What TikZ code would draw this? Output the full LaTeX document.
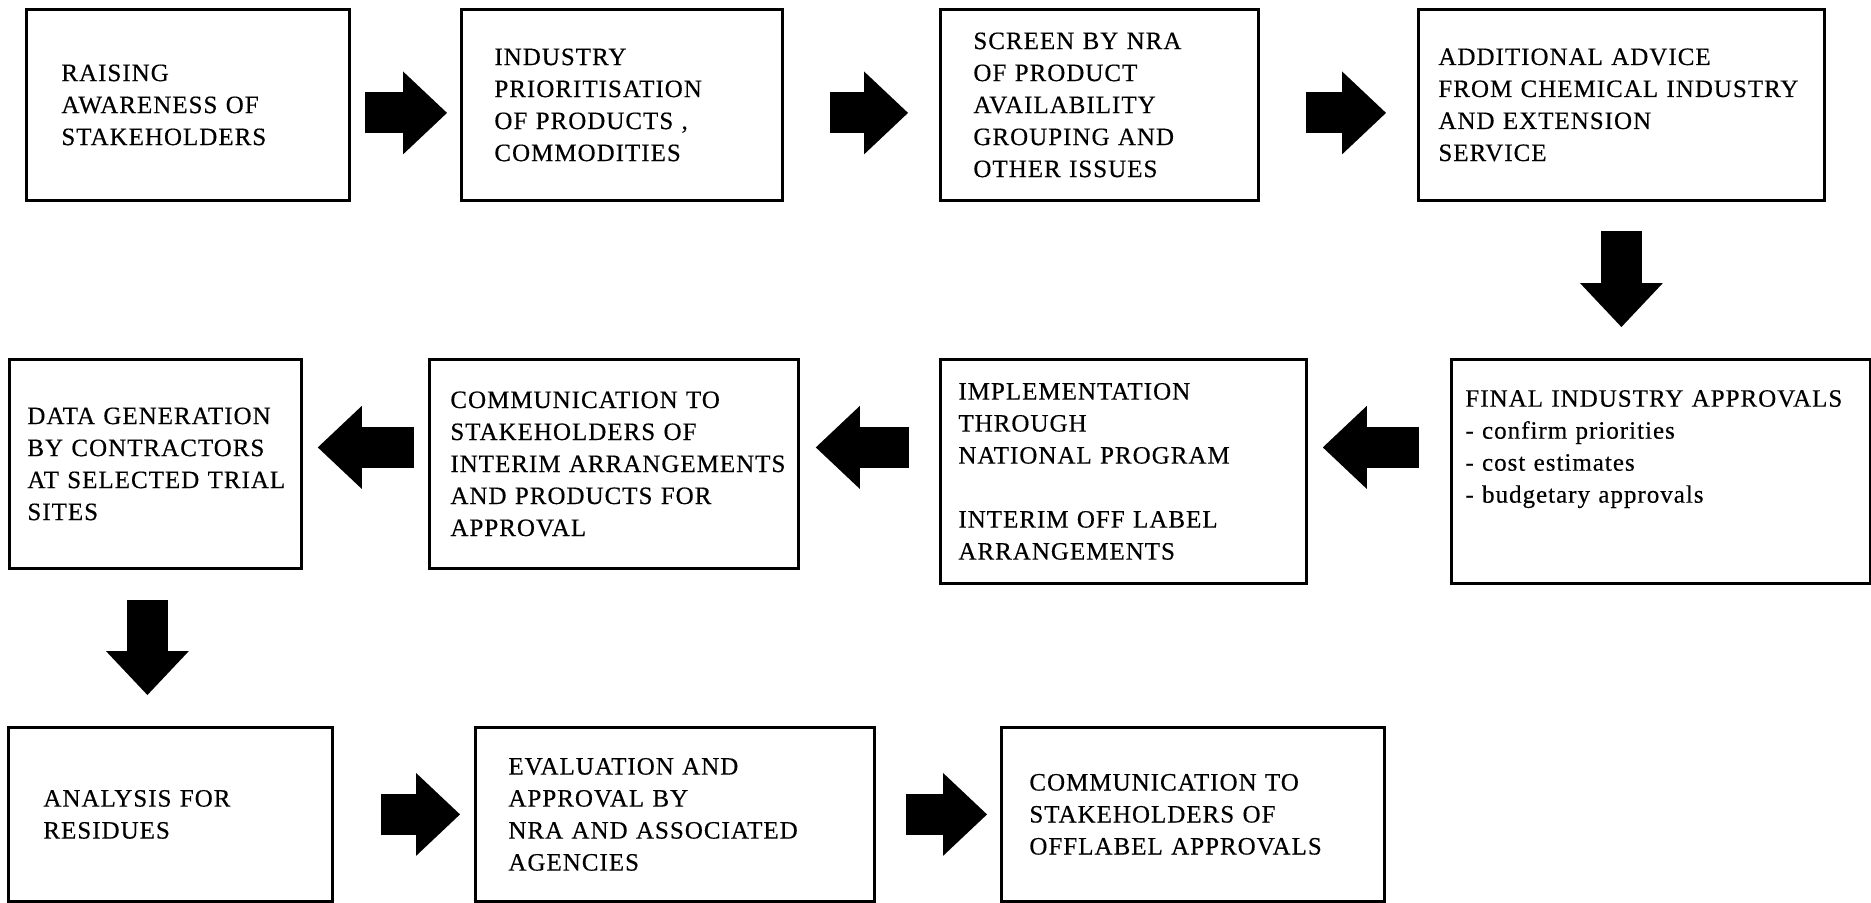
\documentclass[tikz,border=0pt]{standalone}
\usepackage{fontspec}
\setmainfont{Liberation Serif}[LetterSpace=4,FakeBold=0.4]
\usetikzlibrary{arrows.meta,calc}
\hyphenpenalty=10000

\begin{document}
\begin{tikzpicture}[x=0.5pt,y=0.5pt]
\tikzstyle{stage}=[draw=black, line width=1.4pt, anchor=north west, align=left, inner ysep=0pt, font=\fontsize{12.5pt}{16pt}\selectfont]
\tikzstyle{fat}=[line width=20.5pt, -{Triangle[width=41.5pt,length=22pt,line width=0pt]}]
\useasboundingbox (0,0) rectangle (1871,-902);
% row 1
\node[stage, text width=126.5pt, inner xsep=17.5pt, minimum height=95.5pt] (b1) at (25,-8) {RAISING\\AWARENESS OF\\STAKEHOLDERS};
\node[stage, text width=127.5pt, inner xsep=16.5pt, minimum height=95.5pt] (b2) at (460,-8) {INDUSTRY\\PRIORITISATION\\OF PRODUCTS ,\\COMMODITIES};
\node[stage, text width=126pt, inner xsep=16.5pt, minimum height=95.5pt] (b3) at (939,-8) {SCREEN BY NRA\\OF PRODUCT\\AVAILABILITY\\GROUPING AND\\OTHER ISSUES};
\node[stage, text width=183pt, inner xsep=10pt, minimum height=95.5pt] (b4) at (1417,-8) {ADDITIONAL ADVICE\\\mbox{FROM CHEMICAL INDUSTRY}\\AND EXTENSION\\SERVICE};
% row 2
\node[stage, text width=195.5pt, inner xsep=7pt, minimum height=112pt] (b5) at (1450,-358) {\mbox{FINAL INDUSTRY APPROVALS}\\- confirm priorities\\- cost estimates\\- budgetary approvals\\[9pt]\mbox{}};
\node[stage, text width=165pt, inner xsep=9pt, minimum height=112pt] (b6) at (939,-358) {IMPLEMENTATION\\THROUGH\\NATIONAL PROGRAM\\[16pt]INTERIM OFF LABEL\\ARRANGEMENTS};
\node[stage, text width=163.5pt, inner xsep=10.5pt, minimum height=104.5pt] (b8) at (428,-358) {COMMUNICATION TO\\STAKEHOLDERS OF\\\mbox{INTERIM ARRANGEMENTS}\\AND PRODUCTS FOR\\APPROVAL};
\node[stage, text width=128pt, inner xsep=9pt, minimum height=104.5pt] (b7) at (8,-358) {DATA GENERATION\\BY CONTRACTORS\\\mbox{AT SELECTED TRIAL}\\SITES};
% row 3
\node[stage, text width=127pt, inner xsep=17.5pt, minimum height=87pt] (b9) at (7,-726) {ANALYSIS FOR\\RESIDUES};
\node[stage, text width=166.5pt, inner xsep=16.5pt, minimum height=87pt] (b10) at (474,-726) {EVALUATION AND\\APPROVAL BY\\\mbox{NRA AND ASSOCIATED}\\AGENCIES};
\node[stage, text width=163.5pt, inner xsep=14pt, minimum height=87pt] (b11) at (1000,-726) {COMMUNICATION TO\\STAKEHOLDERS OF\\OFFLABEL APPROVALS};
% arrows
\draw[fat, shorten <=7pt, shorten >=6.5pt] ($(b1.east)+(0,-8)$) -- ($(b2.west)+(0,-8)$);
\draw[fat, shorten <=23pt, shorten >=15.5pt] ($(b2.east)+(0,-8)$) -- ($(b3.west)+(0,-8)$);
\draw[fat, shorten <=23pt, shorten >=15.5pt] ($(b3.east)+(0,-8)$) -- ($(b4.west)+(0,-8)$);
\draw[fat, shorten <=14.5pt, shorten >=15.5pt] (b4.south) -- (b4.south |- b5.north);
\draw[fat, shorten <=15.5pt, shorten >=7.5pt] ($(b5.west)+(0,24)$) -- ($(b6.east)+(0,24)$);
\draw[fat, shorten <=15pt, shorten >=8pt] ($(b6.west)+(0,24)$) coordinate (l2) -- (l2 -| b8.east);
\draw[fat, shorten <=7pt, shorten >=7.5pt] ($(b8.west)+(0,16.5)$) -- ($(b7.east)+(0,16.5)$);
\draw[fat, shorten <=15pt, shorten >=15.5pt] ($(b7.south)+(-8,0)$) coordinate (d2) -- (d2 |- b9.north);
\draw[fat, shorten <=23.5pt, shorten >=7pt] (b9.east) -- (b10.west);
\draw[fat, shorten <=15pt, shorten >=6.5pt] (b10.east) -- (b11.west);
\end{tikzpicture}
\end{document}
